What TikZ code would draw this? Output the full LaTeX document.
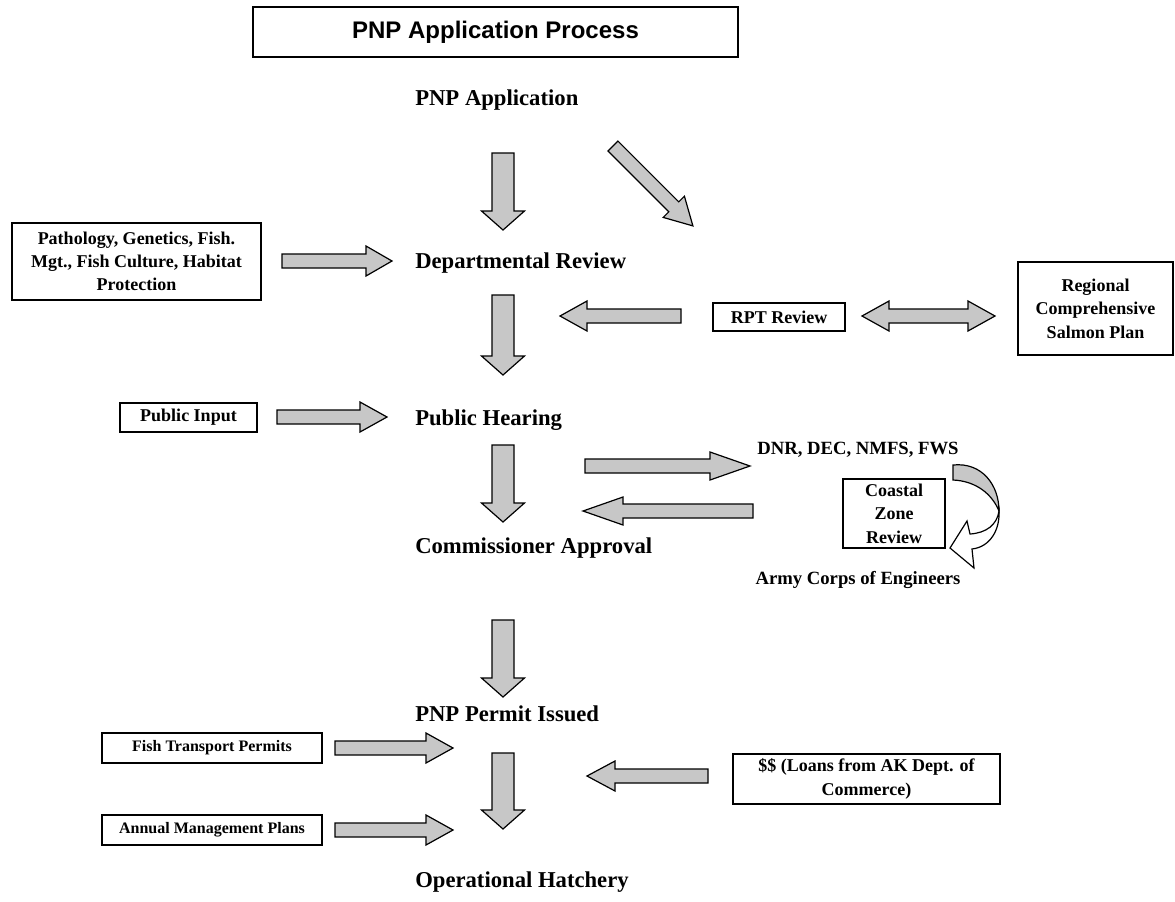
\documentclass[tikz,border=0pt]{standalone}
\usepackage{fontspec}
\setmainfont{Liberation Serif}
\newfontfamily\titlefont{Liberation Sans}
\begin{document}
\begin{tikzpicture}[x=0.75pt,y=-0.75pt,
  lbl/.style={font=\bfseries\fontsize{17}{20}\selectfont, anchor=west, inner sep=0pt},
  ctr/.style={font=\bfseries\fontsize{14}{17}\selectfont, inner sep=0pt},
  box/.style={draw, line width=1pt, font=\bfseries\fontsize{13.5}{17.5}\selectfont, align=center, inner sep=0pt},
  smallbox/.style={box, font=\bfseries\fontsize{12}{15}\selectfont},
  barr/.style={draw, line width=0.9pt, fill=black!22, line join=miter},
  pics/blockarrow/.style n args={4}{code={%
    \path[barr] (0,-#2) -- ({#1-#4},-#2) -- ({#1-#4},-#3) -- (#1,0)
      -- ({#1-#4},#3) -- ({#1-#4},#2) -- (0,#2) -- cycle;}},
  pics/doublearrow/.style n args={4}{code={%
    \path[barr] (0,0) -- (#4,-#3) -- (#4,-#2) -- ({#1-#4},-#2) -- ({#1-#4},-#3)
      -- (#1,0) -- ({#1-#4},#3) -- ({#1-#4},#2) -- (#4,#2) -- (#4,#3) -- cycle;}},
]
\useasboundingbox (0,0) rectangle (1175,901);

% title
\node[draw, line width=1pt, minimum width=363.75pt, minimum height=37.5pt,
      font=\titlefont\bfseries\fontsize{18}{20}\selectfont] (title) at (495.5,32) {PNP Application Process};

% main sequence of stages
\node[lbl] (app)    at (415,100) {PNP Application};
\node[lbl] (dept)   at (415,263) {Departmental Review};
\node[lbl] (hear)   at (415,420) {Public Hearing};
\node[lbl] (comm)   at (415,548) {Commissioner Approval};
\node[lbl] (permit) at (415,714) {PNP Permit Issued};
\node[lbl] (hatch)  at (415,882) {Operational Hatchery};

% downward arrows between stages
\pic[rotate=-90] (a1) at (503,153) {blockarrow={77}{11}{21.5}{19}};
\pic[rotate=-90] (a2) at (503,295) {blockarrow={80}{11}{21.5}{19}};
\pic[rotate=-90] (a3) at (503,445) {blockarrow={77}{11}{21.5}{19}};
\pic[rotate=-90] (a4) at (503,620) {blockarrow={77}{11}{21.5}{19}};
\pic[rotate=-90] (a5) at (503,753) {blockarrow={76}{11}{21.5}{19}};

% application to regional planning team
\pic[rotate=-45] (diag) at (613,146) {blockarrow={113}{7}{15}{27}};

% departmental review inputs
\node[box, minimum width=186.75pt, minimum height=57.75pt] (path) at (136.5,261.5)
  {Pathology, Genetics, Fish.\\Mgt., Fish Culture, Habitat\\Protection};
\pic (r1) at (282,261) {blockarrow={110}{7}{15}{26}};

\node[box, minimum width=99pt, minimum height=21pt] (rpt) at (779,317) {RPT Review};
\pic[rotate=180] (l1) at (681,316) {blockarrow={121}{7}{15}{27}};
\pic (dbl) at (862,316) {doublearrow={133}{7}{15}{27}};
\node[box, minimum width=116.25pt, minimum height=69.75pt] (rcsp) at (1095.5,308.5)
  {Regional\\Comprehensive\\Salmon Plan};

% public hearing input
\node[box, minimum width=102.75pt, minimum height=21.75pt] (input) at (188.5,417.5) {Public Input};
\pic (r2) at (277,417) {blockarrow={110}{7}{15}{27}};

% agency review loop
\pic (r3) at (585,466) {blockarrow={165}{7}{14}{40}};
\pic[rotate=180] (l2) at (753,511) {blockarrow={170}{7}{14}{40}};
\node[ctr] (dnr) at (858,450) {DNR, DEC, NMFS, FWS};
\node[box, minimum width=76.5pt, minimum height=51.75pt] (czr) at (894,513.5) {Coastal\\Zone\\Review};
\node[ctr] (army) at (858,580) {Army Corps of Engineers};

% curled arrow beside coastal zone review: shaded front face, white back face
\path[barr] (953,465) .. controls (982,462) and (999,485) .. (999,511)
  .. controls (992,494) and (976,481) .. (953,480) -- cycle;
\path[draw, line width=0.9pt, fill=white, line join=miter] (999,511)
  .. controls (997,525) and (986,533) .. (970,534) -- (967,521) -- (950,548)
  -- (974,568) -- (972,549) .. controls (990,547) and (1000,530) .. (999,511) -- cycle;

% permit inputs
\node[smallbox, minimum width=165pt, minimum height=22.5pt] (fish) at (212,748) {Fish Transport Permits};
\pic (r5) at (335,748) {blockarrow={118}{7}{15}{27}};
\node[smallbox, minimum width=165pt, minimum height=22.5pt] (amp) at (212,830) {Annual Management Plans};
\pic (r6) at (335,830) {blockarrow={118}{7}{15}{27}};
\node[box, minimum width=200.25pt, minimum height=37.5pt] (loans) at (866.5,779)
  {\$\$ (Loans from AK Dept. of\\Commerce)};
\pic[rotate=180] (l3) at (708,776) {blockarrow={121}{7}{15}{28}};
\end{tikzpicture}
\end{document}
